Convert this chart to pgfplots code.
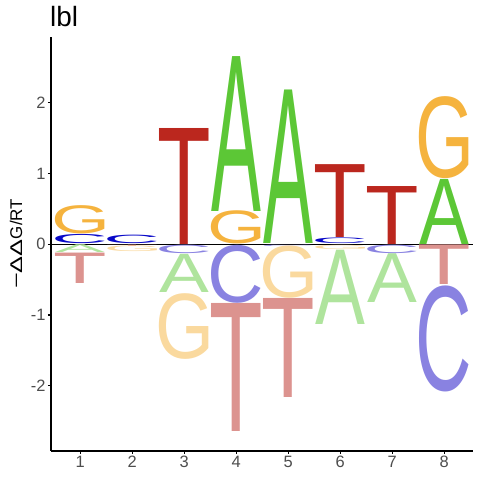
\documentclass[border=0pt]{standalone}
\usepackage{fontspec}
\setmainfont{Liberation Sans}
\newfontfamily\logofont{Liberation Sans}
\usepackage{graphicx}
\usepackage{pgfplots}
\pgfplotsset{compat=1.18}
\usepackage{pgfplotstable}

\definecolor{colA}{RGB}{92,199,54}
\definecolor{colC}{RGB}{8,8,200}
\definecolor{colG}{RGB}{245,179,62}
\definecolor{colT}{RGB}{187,39,30}
\definecolor{fadA}{RGB}{175,228,157}
\definecolor{fadC}{RGB}{137,130,225}
\definecolor{fadG}{RGB}{250,217,158}
\definecolor{fadT}{RGB}{220,147,143}
\definecolor{tickgray}{RGB}{77,77,77}

\newcount\glyphno
\newdimen\inkl \newdimen\inkr \newdimen\inkt \newdimen\inkb
\newcommand\ink[1]{%
  \logofont
  \glyphno=\XeTeXcharglyph`#1\relax
  \inkl=\XeTeXglyphbounds1 \glyphno
  \inkr=\XeTeXglyphbounds3 \glyphno
  \inkt=\XeTeXglyphbounds2 \glyphno
  \inkb=\XeTeXglyphbounds4 \glyphno
  \setbox0=\hbox{\kern-\inkl #1\kern-\inkr}%
  \ht0=\inkt \dp0=\inkb
  \box0}

\pgfdeclareplotmark{nothing}{}
\def\yu{70.7}
\def\LW{49.5bp}
\pgfplotsset{
  logo/.style 2 args={scatter, only marks, mark=nothing, forget plot,
    visualization depends on={\thisrow{h}\as\hh},
    scatter/@pre marker code/.code={%
      \pgfmathsetlengthmacro\HH{\hh*\yu bp}%
      \node[anchor=south, inner sep=0pt, outer sep=0pt, text=#2]{\resizebox*{\LW}{\HH}{\ink{#1}}};},
    scatter/@post marker code/.code={}}
}

% positive letters
\pgfplotstableread{
x y0 h
4 0.47 2.19
5 0.01 2.17
8 0.00 0.92
}\posA
\pgfplotstableread{
x y0 h
3 0.00 1.64
6 0.10 1.03
7 0.00 0.82
}\posT
\pgfplotstableread{
x y0 h
1 0.15 0.40
4 0.00 0.47
8 0.93 1.16
}\posG
\pgfplotstableread{
x y0 h
1 0.01 0.13
2 0.01 0.12
6 0.01 0.08
}\posC
% negative letters
\pgfplotstableread{
x y0 h
1 -0.55 0.43
2 -0.025 0.02
4 -2.65 1.81
5 -2.17 1.40
8 -0.57 0.56
}\negT
\pgfplotstableread{
x y0 h
1 -0.12 0.11
3 -0.68 0.54
6 -1.13 1.05
7 -0.82 0.69
}\negA
\pgfplotstableread{
x y0 h
2 -0.11 0.08
3 -1.63 0.93
5 -0.77 0.74
6 -0.07 0.06
}\negG
\pgfplotstableread{
x y0 h
3 -0.13 0.12
4 -0.83 0.82
5 -0.03 0.02
7 -0.13 0.12
8 -2.09 1.50
}\negC

\begin{document}
\begin{tikzpicture}
\useasboundingbox (-51bp,-29.3bp) rectangle (429bp,450.7bp);
\begin{axis}[
  at={(0,0)}, anchor=south west,
  x=52bp, y=70.7bp,
  xmin=0.44, xmax=8.56, ymin=-2.92, ymax=2.93,
  axis lines=left,
  axis line style={line width=1.6bp, -},
  tick align=outside,
  major tick length=3bp,
  tick style={black, line width=1.1bp},
  xtick={1,2,3,4,5,6,7,8},
  xticklabels={1,2,3,4,5,6,7,8},
  ytick={-2,-1,0,1,2},
  yticklabels={-2,-1,0,1,2},
  ticklabel style={font=\fontsize{16.5}{16.5}\selectfont, text=tickgray},
  xticklabel style={yshift=1bp},
  yticklabel style={xshift=1bp},
  every axis title/.style={at={(axis description cs:0,1)}, anchor=base west,
    yshift=10.6bp, xshift=-1bp, inner sep=0pt, font=\fontsize{28}{28}\selectfont},
  title={lbl},
  every axis y label/.style={at={(axis description cs:-0.0829,0.5)}, rotate=90,
    anchor=center, inner sep=0pt, font=\fontsize{17}{17}\selectfont},
  ylabel={\scalebox{1.6}[1]{−}\scalebox{1.5}[1]{ΔΔ}G/RT},
]
\addplot[logo={A}{colA}] table {\posA};
\addplot[logo={T}{colT}] table {\posT};
\addplot[logo={G}{colG}] table {\posG};
\addplot[logo={C}{colC}] table {\posC};
\addplot[logo={T}{fadT}] table {\negT};
\addplot[logo={A}{fadA}] table {\negA};
\addplot[logo={G}{fadG}] table {\negG};
\addplot[logo={C}{fadC}] table {\negC};
\addplot[black, line width=0.9bp, no marks] coordinates {(0.44,0) (8.56,0)};
\end{axis}
\end{tikzpicture}
\end{document}
